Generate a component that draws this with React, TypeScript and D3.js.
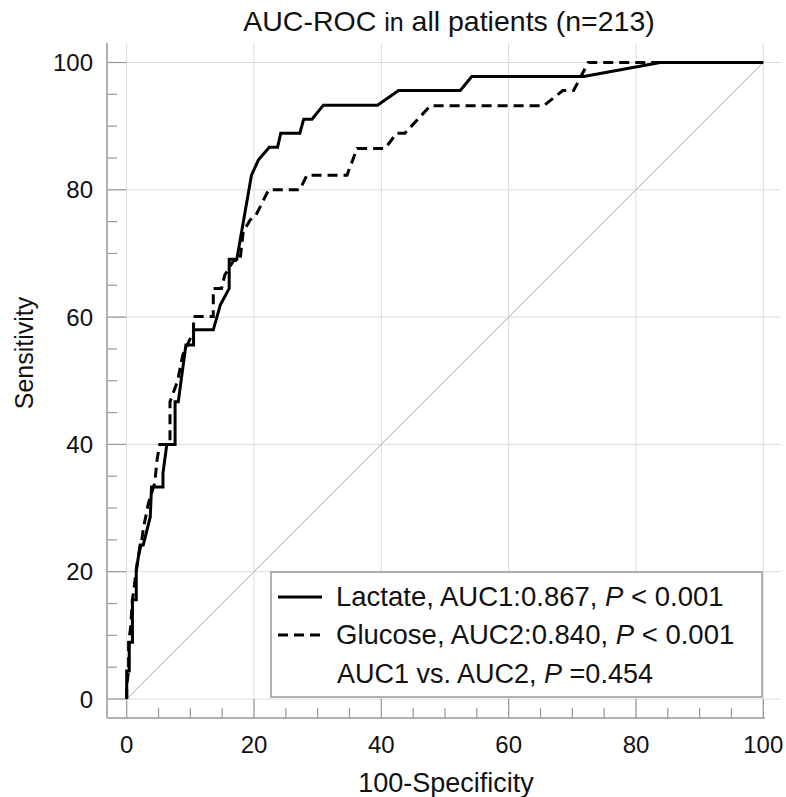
import React from "react";
import * as d3 from "d3";

// ROC points: [100-specificity, sensitivity]
const lactate: [number, number][] = [
  [0, 0], [0, 4.4], [0.4, 4.4], [0.4, 8.9], [0.9, 8.9], [0.9, 15.6], [1.5, 15.6],
  [1.5, 20.0], [2.1, 24.2], [2.6, 24.2], [3.7, 28.6], [3.9, 33.3], [5.7, 33.3],
  [5.7, 35.5], [6.3, 40.0], [7.6, 40.0], [7.6, 46.7], [8.1, 46.7], [9.3, 55.6],
  [10.5, 55.6], [10.5, 58.0], [13.6, 58.0], [14.7, 61.9], [16.1, 64.5], [16.1, 69.1],
  [17.3, 69.1], [19.6, 82.3], [20.7, 84.7], [22.4, 86.7], [23.7, 86.7], [24.2, 88.9],
  [27.2, 88.9], [27.8, 91.1], [29.1, 91.1], [30.9, 93.3], [39.4, 93.3], [42.7, 95.6],
  [52.4, 95.6], [54.2, 97.8], [71.8, 97.8], [83.8, 100], [100, 100],
];

const glucose: [number, number][] = [
  [0, 0], [0, 2.2], [0.3, 4.4], [0.3, 9.0], [0.6, 11.1], [0.9, 15.6], [1.2, 17.8],
  [1.7, 21.8], [2.3, 24.4], [2.6, 26.7], [3.4, 30.7], [4.4, 33.9], [4.8, 37.8],
  [5.2, 40.0], [6.8, 40.0], [6.8, 46.7], [7.1, 47.5], [8.0, 50.0], [8.8, 54.0],
  [10.5, 57.8], [10.5, 60.1], [13.6, 60.1], [13.6, 64.5], [14.9, 64.5], [15.4, 66.6],
  [16.8, 68.9], [17.8, 68.9], [18.3, 73.4], [19.4, 75.3], [20.2, 75.8], [22.3, 80.0],
  [27.2, 80.0], [28.3, 82.3], [34.6, 82.3], [36.2, 86.5], [40.6, 86.5], [42.4, 88.9],
  [43.7, 88.9], [47.7, 93.2], [65.5, 93.2], [68.5, 95.6], [70.2, 95.6], [72.5, 100],
  [100, 100],
];

const majorTicks = [0, 20, 40, 60, 80, 100];
const minorTicks = d3.range(0, 101, 5).filter((v) => v % 20 !== 0);

const legendLines = [
  { name: "Lactate, AUC1:0.867, ", p: "< 0.001", dash: "" },
  { name: "Glucose, AUC2:0.840, ", p: "< 0.001", dash: "10,6" },
];
const compareText = "AUC1 vs. AUC2, ";
const compareP = "=0.454";

const W = 786;
const H = 797;
const font = "'Liberation Sans', Arial, Helvetica, sans-serif";

export default function App() {
  const x = d3.scaleLinear().domain([0, 100]).range([126.7, 763.3]);
  const y = d3.scaleLinear().domain([0, 100]).range([699, 62.5]);
  const axisX = 107;
  const axisY = 718;
  const top = 43;

  const line = d3
    .line<[number, number]>()
    .x((d) => x(d[0]))
    .y((d) => y(d[1]));

  return (
    <svg
      width={W}
      height={H}
      style={{ position: "absolute", left: 0, top: 0, background: "#fff" }}
      fontFamily={font}
    >
      {/* title */}
      <text x={449} y={31} textAnchor="middle" fontSize={28.5} fill="#111">
        AUC-ROC <tspan fontSize={25}>in</tspan> all patients (n=213)
      </text>

      {/* grid */}
      {majorTicks.map((t) => (
        <g key={"g" + t}>
          <line x1={x(t)} x2={x(t)} y1={top} y2={axisY} stroke="#dcdcdc" strokeWidth={1} />
          <line x1={axisX} x2={781} y1={y(t)} y2={y(t)} stroke="#dcdcdc" strokeWidth={1} />
        </g>
      ))}

      {/* axes */}
      <line x1={axisX} x2={axisX} y1={top} y2={axisY} stroke="#999" strokeWidth={1.5} />
      <line x1={axisX} x2={765} y1={axisY} y2={axisY} stroke="#999" strokeWidth={1.5} />
      {majorTicks.map((t) => (
        <g key={"t" + t}>
          <line x1={x(t)} x2={x(t)} y1={axisY} y2={axisY - 19} stroke="#999" strokeWidth={1.2} />
          <line x1={axisX} x2={axisX + 19} y1={y(t)} y2={y(t)} stroke="#999" strokeWidth={1.2} />
          <text x={x(t)} y={753} textAnchor="middle" fontSize={24} fill="#111">
            {t}
          </text>
          <text x={93} y={y(t) + 8.5} textAnchor="end" fontSize={24} fill="#111">
            {t}
          </text>
        </g>
      ))}
      {minorTicks.map((t) => (
        <g key={"m" + t}>
          <line x1={x(t)} x2={x(t)} y1={axisY} y2={axisY - 10} stroke="#999" strokeWidth={1.2} />
          <line x1={axisX} x2={axisX + 10} y1={y(t)} y2={y(t)} stroke="#999" strokeWidth={1.2} />
        </g>
      ))}

      {/* axis titles */}
      <text x={446} y={792} textAnchor="middle" fontSize={27} fill="#111">
        100-Specificity
      </text>
      <text
        transform="translate(33,353) rotate(-90)"
        textAnchor="middle"
        fontSize={25}
        fill="#111"
      >
        Sensitivity
      </text>

      {/* reference diagonal */}
      <line x1={x(0)} y1={y(0)} x2={x(100)} y2={y(100)} stroke="#aaa" strokeWidth={1} />

      {/* curves */}
      <path d={line(glucose) || ""} fill="none" stroke="#000" strokeWidth={3} strokeDasharray="10,6" />
      <path d={line(lactate) || ""} fill="none" stroke="#000" strokeWidth={3} />

      {/* legend */}
      <rect x={271} y={572} width={491} height={125} fill="#fff" stroke="#999" strokeWidth={1.5} />
      {legendLines.map((l, i) => (
        <g key={l.name} transform={`translate(0,${597 + i * 38})`}>
          <line x1={278} x2={322} y1={0} y2={0} stroke="#000" strokeWidth={3} strokeDasharray={l.dash || undefined} />
          <text x={336} y={9} fontSize={27.5} fill="#111">
            {l.name}
            <tspan fontStyle="italic">P</tspan>
            <tspan> {l.p}</tspan>
          </text>
        </g>
      ))}
      <text x={337} y={683} fontSize={27} fill="#111">
        {compareText}
        <tspan fontStyle="italic">P</tspan>
        <tspan> {compareP}</tspan>
      </text>
    </svg>
  );
}
